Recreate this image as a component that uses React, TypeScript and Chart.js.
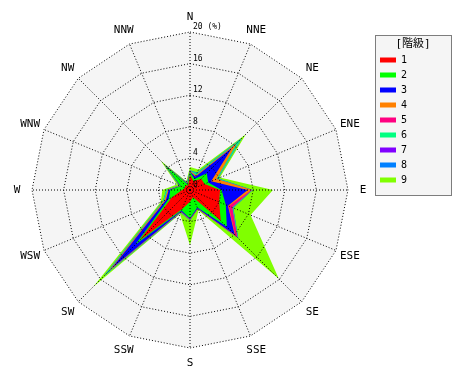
import React, { useEffect, useRef } from 'react';
import { Chart, registerables } from 'chart.js';

Chart.register(...registerables);

const MONO = "'DejaVu Sans Mono', 'Noto Sans CJK JP', monospace";

const directions = ['N', 'NNE', 'NE', 'ENE', 'E', 'ESE', 'SE', 'SSE', 'S', 'SSW', 'SW', 'WSW', 'W', 'WNW', 'NW', 'NNW'];
const classLabels = ['1', '2', '3', '4', '5', '6', '7', '8', '9'];
const classColors = ['#ff0000', '#00ff00', '#0000ff', '#ff8000', '#ff0080', '#00ff80', '#8000ff', '#0080ff', '#80ff00'];

// frequency (%) per class, per direction (N, NNE, ... NNW)
const class1 = [1.9, 1.2, 2.0, 2.0, 3.8, 4.0, 5.5, 1.0, 1.5, 2.6, 9.0, 2.5, 1.0, 0.7, 0.8, 0.6];
const class2 = [0.4, 0.3, 1.0, 0.5, 0.2, 0.9, 1.1, 1.4, 2.1, 0.2, 0.8, 0.4, 1.5, 0.6, 3.6, 0.2];
const class3 = [0.05, 0.3, 4.5, 0.4, 3.3, 0.3, 1.4, 0.15, 0.1, 0.15, 4.2, 0.4, 0.2, 0.05, 0.05, 0.05];
const class4 = [0.05, 0.2, 0.8, 0.7, 0.5, 0.1, 0.1, 0.05, 0.05, 0.05, 0.4, 0.2, 0.1, 0.05, 0.05, 0.05];
const class5 = [0, 0, 0.05, 0, 0.05, 0.5, 0.4, 0, 0, 0, 0.1, 0, 0, 0, 0, 0];
const class6 = [0.05, 0.3, 0.85, 0.2, 0.05, 0.1, 0.1, 0, 0.05, 0.1, 0.8, 0.2, 0.2, 0.1, 0.1, 0.1];
const class7 = [0, 0, 0, 0, 0, 0, 0, 0, 0, 0, 0.05, 0, 0, 0, 0, 0];
const class8 = [0.05, 0.1, 0.1, 0.05, 0.05, 0.05, 0.05, 0, 0.05, 0, 0.05, 0, 0, 0, 0, 0];
const class9 = [0.4, 0.4, 0.7, 0.25, 2.55, 2.35, 7.25, 0.2, 3.15, 0.2, 1.9, 0.3, 0.5, 0.3, 0.6, 0.2];

const tickValues = [0, 4, 8, 12, 16, 20];
const unitLabel = '(%)';
const legendTitle = '[階級]';

const polarBgPlugin = {
  id: 'polarBg',
  beforeDatasetsDraw(chart: any) {
    const s = chart.scales.r;
    const ctx = chart.ctx;
    const d = s.getDistanceFromCenterForValue(s.max);
    ctx.save();
    ctx.beginPath();
    for (let i = 0; i < directions.length; i++) {
      const p = s.getPointPosition(i, d);
      if (i === 0) ctx.moveTo(p.x, p.y);
      else ctx.lineTo(p.x, p.y);
    }
    ctx.closePath();
    ctx.fillStyle = '#f5f5f5';
    ctx.fill();
    ctx.restore();
  },
};

const labelsPlugin = {
  id: 'roseLabels',
  afterDraw(chart: any) {
    const s = chart.scales.r;
    const ctx = chart.ctx;
    ctx.save();
    // direction labels
    ctx.font = `11px ${MONO}`;
    ctx.fillStyle = '#000';
    ctx.textAlign = 'center';
    ctx.textBaseline = 'middle';
    const dist = s.drawingArea + 15;
    directions.forEach((lab, i) => {
      const p = s.getPointPosition(i, dist);
      ctx.fillText(lab, p.x, p.y);
    });
    // tick labels along the N spoke
    ctx.font = `8px ${MONO}`;
    ctx.textAlign = 'left';
    ctx.textBaseline = 'bottom';
    tickValues.forEach((v, i) => {
      const d = s.getDistanceFromCenterForValue(v);
      const txt = i === tickValues.length - 1 ? `${v} ${unitLabel}` : String(v);
      ctx.fillText(txt, s.xCenter + 3, s.yCenter - d - 1);
    });
    ctx.restore();
  },
};

const LEGEND_W = 76;
const legendBoxPlugin = {
  id: 'legendBox',
  beforeLayout(chart: any) {
    const lg = chart.legend;
    if (lg && !lg.__widened) {
      const fit = lg.fit;
      lg.fit = function () {
        fit.call(this);
        this.width = LEGEND_W;
      };
      lg.__widened = true;
    }
  },
  beforeDraw(chart: any) {
    const lg = chart.legend;
    if (!lg) return;
    const ctx = chart.ctx;
    const x = Math.round(lg.left) + 0.5;
    const y = Math.round(lg.top) + 3.5;
    const w = LEGEND_W;
    const h = 160;
    ctx.save();
    ctx.fillStyle = '#f5f5f5';
    ctx.fillRect(x, y, w, h);
    ctx.strokeStyle = '#000';
    ctx.lineWidth = 1;
    ctx.setLineDash([1, 1]);
    ctx.strokeRect(x, y, w, h);
    ctx.restore();
  },
};

export default function App() {
  const ref = useRef<HTMLCanvasElement>(null);

  useEffect(() => {
    if (!ref.current) return;
    const series = [class1, class2, class3, class4, class5, class6, class7, class8, class9];
    // radar charts do not stack, so build cumulative rings
    const datasets = series.map((_, k) => ({
      label: classLabels[k],
      data: directions.map((__, i) => {
        let sum = 0;
        for (let j = 0; j <= k; j++) sum += series[j][i];
        return Math.round(sum * 100) / 100;
      }),
      backgroundColor: classColors[k],
      borderColor: 'rgba(0,0,0,0)',
      borderWidth: 0,
      pointRadius: 0,
      pointHoverRadius: 0,
      fill: 'origin',
      tension: 0,
    }));

    const chart = new Chart(ref.current, {
      type: 'radar',
      data: { labels: directions, datasets },
      options: {
        responsive: false,
        animation: false,
        events: [],
        layout: { padding: { top: 32, bottom: 32, left: 5, right: 470 - 375 - LEGEND_W } },
        scales: {
          r: {
            min: 0,
            max: 20,
            startAngle: 0,
            ticks: { stepSize: 4, display: false, z: 1 },
            grid: { color: '#000', lineWidth: 1, circular: false, z: 1 },
            border: { dash: [1, 2] },
            angleLines: { display: true, color: '#000', lineWidth: 1, borderDash: [1, 2] },
            pointLabels: { display: false },
          },
        },
        plugins: {
          tooltip: { enabled: false },
          legend: {
            display: true,
            position: 'right',
            align: 'start',
            title: {
              display: true,
              text: legendTitle,
              color: '#000',
              font: { family: MONO, size: 11, lineHeight: 1 },
              padding: { top: 7, bottom: 0 },
            },
            labels: {
              boxWidth: 16,
              boxHeight: 5,
              padding: 5,
              color: '#000',
              font: { family: MONO, size: 10 },
            },
          },
        },
      } as any,
      plugins: [polarBgPlugin, labelsPlugin, legendBoxPlugin],
    });
    return () => chart.destroy();
  }, []);

  return (
    <div style={{ position: 'fixed', left: 0, top: 0, width: 470, height: 380, background: '#fff' }}>
      <canvas ref={ref} width={470} height={380} style={{ display: 'block' }} />
    </div>
  );
}
